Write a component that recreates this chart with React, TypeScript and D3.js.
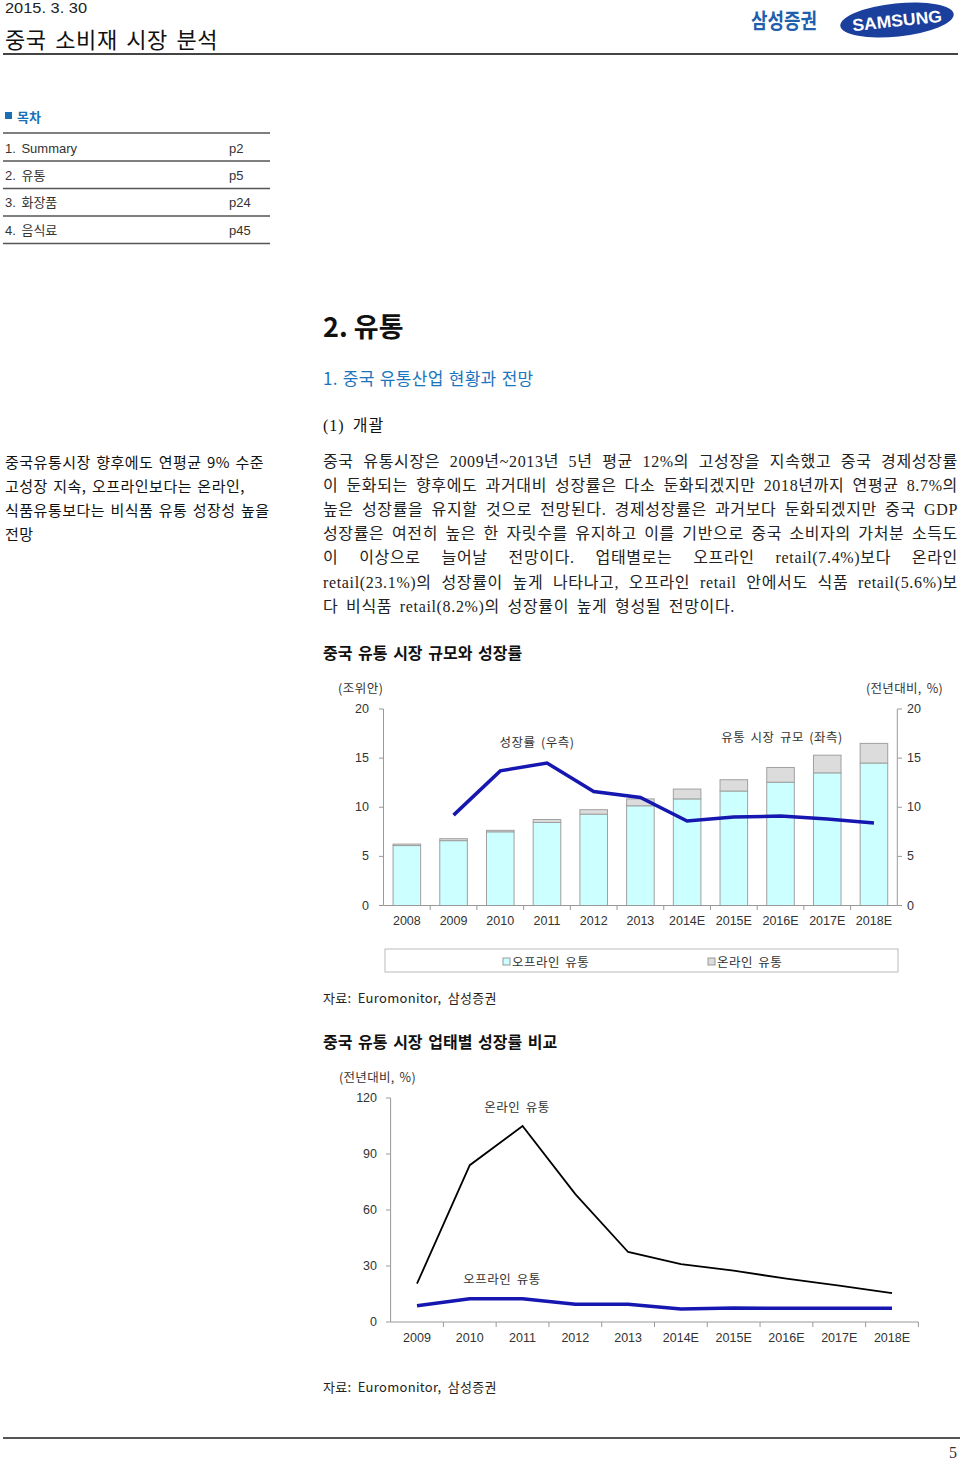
import React, { useLayoutEffect, useRef } from 'react';
import * as d3 from 'd3';

// ---------- data ----------
const tocItems = ['1. Summary', '2. 유통', '3. 화장품', '4. 음식료'];
const tocPages = ['p2', 'p5', 'p24', 'p45'];

const sideLines = [
  '중국유통시장 향후에도 연평균 9% 수준',
  '고성장 지속, 오프라인보다는 온라인,',
  '식품유통보다는 비식품 유통 성장성 높을',
  '전망',
];

const bodyLines = [
  '중국 유통시장은 2009년~2013년 5년 평균 12%의 고성장을 지속했고 중국 경제성장률',
  '이 둔화되는 향후에도 과거대비 성장률은 다소 둔화되겠지만 2018년까지 연평균 8.7%의',
  '높은 성장률을 유지할 것으로 전망된다. 경제성장률은 과거보다 둔화되겠지만 중국 GDP',
  '성장률은 여전히 높은 한 자릿수를 유지하고 이를 기반으로 중국 소비자의 가처분 소득도',
  '이 이상으로 늘어날 전망이다. 업태별로는 오프라인 retail(7.4%)보다 온라인',
  'retail(23.1%)의 성장률이 높게 나타나고, 오프라인 retail 안에서도 식품 retail(5.6%)보',
  '다 비식품 retail(8.2%)의 성장률이 높게 형성될 전망이다.',
];

const years1 = ['2008', '2009', '2010', '2011', '2012', '2013', '2014E', '2015E', '2016E', '2017E', '2018E'];
const offline1 = [6.1, 6.6, 7.5, 8.45, 9.3, 10.15, 10.85, 11.65, 12.55, 13.5, 14.5];
const online1 = [0.15, 0.2, 0.15, 0.3, 0.45, 0.7, 1.0, 1.15, 1.5, 1.8, 2.0];
const growth1: (number | null)[] = [null, 9.2, 13.7, 14.5, 11.6, 11.0, 8.6, 9.0, 9.1, 8.8, 8.4];
const ticks1 = [0, 5, 10, 15, 20];

const years2 = ['2009', '2010', '2011', '2012', '2013', '2014E', '2015E', '2016E', '2017E', '2018E'];
const onlineGrowth = [20.5, 84, 105, 68.5, 37.5, 31, 27.5, 23.2, 19.5, 15.5];
const offlineGrowth = [8.7, 12.5, 12.5, 9.5, 9.5, 7.0, 7.5, 7.3, 7.3, 7.3];
const ticks2 = [0, 30, 60, 90, 120];

const SANS = '"Liberation Sans", Arial, "Noto Sans CJK KR", sans-serif';
const KR = '"Noto Sans CJK KR", "Liberation Sans", sans-serif';
const SERIF = '"Liberation Serif", "Noto Sans CJK KR", serif';
const BLUE_LINE = '#1616b0';

const BODY_WIDTH = 635;
const LAST_LINE_WIDTH = 412;

export default function App() {
  const bodyRefs = useRef<(SVGTextElement | null)[]>([]);

  useLayoutEffect(() => {
    const els = bodyRefs.current;
    const info = els.map((el, i) => {
      if (!el) return { w: 0, n: 0, s: 0 };
      el.setAttribute('word-spacing', '0');
      el.setAttribute('letter-spacing', '0');
      const w = el.getComputedTextLength();
      const n = Array.from(bodyLines[i]).length;
      const s = (bodyLines[i].match(/ /g) || []).length;
      return { w, n, s };
    });
    const last = info[info.length - 1];
    const baseWs = 3;
    const L = Math.max(0, (LAST_LINE_WIDTH - last.w - last.s * baseWs) / last.n);
    els.forEach((el, i) => {
      if (!el) return;
      el.setAttribute('letter-spacing', String(L));
      const { w, n, s } = info[i];
      if (i === els.length - 1) {
        el.setAttribute('word-spacing', String(baseWs));
      } else if (s > 0) {
        const ws = (BODY_WIDTH - w - L * n) / s;
        el.setAttribute('word-spacing', String(ws));
      }
    });
  }, []);

  // chart 1 scales
  const x1 = d3.scaleBand<string>().domain(years1).range([383.5, 897.3]).paddingInner(0.41).paddingOuter(0.205);
  const y1 = d3.scaleLinear().domain([0, 20]).range([905.5, 709]);
  const yR = d3.scaleLinear().domain([0, 20]).range([905.5, 709]);
  const bw1 = x1.bandwidth();
  const cx1 = (d: string) => (x1(d) as number) + bw1 / 2;
  const growthLine = d3
    .line<number | null>()
    .defined((d) => d !== null)
    .x((_, i) => cx1(years1[i]))
    .y((d) => yR(d as number));

  // chart 2 scales
  const x2 = d3.scaleBand<string>().domain(years2).range([390.6, 918.4]);
  const y2 = d3.scaleLinear().domain([0, 120]).range([1322, 1098]);
  const cx2 = (d: string) => (x2(d) as number) + x2.bandwidth() / 2;
  const line2 = d3
    .line<number>()
    .x((_, i) => cx2(years2[i]))
    .y((d) => y2(d));

  const step1 = x1.step();
  const x1Start = 383.5;
  const x2Start = 390.6;

  return (
    <div style={{ position: 'absolute', left: 0, top: 0 }}>
      <svg width={960} height={1460} style={{ display: 'block', background: '#fff' }}>
        {/* header */}
        <text x={5} y={8} dominantBaseline="central" fontFamily={SANS} fontSize={14} fill="#222" textLength={82} lengthAdjust="spacingAndGlyphs">2015. 3. 30</text>
        <text x={5} y={38} dominantBaseline="central" fontFamily={KR} fontSize={22} fill="#111" letterSpacing={0.6} wordSpacing={3}>중국 소비재 시장 분석</text>
        <line x1={3} x2={958} y1={54} y2={54} stroke="#444" strokeWidth={2} />
        <text x={751} y={19} dominantBaseline="central" fontFamily={KR} fontSize={21} fontWeight={700} fill="#1f5fae" textLength={66} lengthAdjust="spacingAndGlyphs">삼성증권</text>
        <g transform="translate(897,20) rotate(-6)">
          <ellipse cx={0} cy={0} rx={57} ry={16.5} fill="#1a3f9c" />
          <text x={0} y={1} textAnchor="middle" dominantBaseline="central" fontFamily={SANS} fontSize={17} fontWeight={700} fill="#fff" textLength={90} lengthAdjust="spacingAndGlyphs">SAMSUNG</text>
        </g>

        {/* TOC */}
        <rect x={5} y={112} width={7} height={7} fill="#1a6fb5" />
        <text x={17} y={116} dominantBaseline="central" fontFamily={KR} fontSize={13} fontWeight={700} fill="#1a6fb5">목차</text>
        {[133, 161, 188.5, 216, 243.5].map((y, i) => (
          <line key={i} x1={3} x2={270} y1={y} y2={y} stroke="#555" strokeWidth={1.5} />
        ))}
        {tocItems.map((t, i) => (
          <g key={t}>
            <text x={5} y={148 + i * 27.4} dominantBaseline="central" fontFamily={SANS} fontSize={13} fill="#333" wordSpacing={2}>{t}</text>
            <text x={229} y={148 + i * 27.4} dominantBaseline="central" fontFamily={SANS} fontSize={13} fill="#333">{tocPages[i]}</text>
          </g>
        ))}

        {/* section headings */}
        <text x={323} y={325} dominantBaseline="central" fontFamily={KR} fontSize={27} fontWeight={700} fill="#111">2. 유통</text>
        <text x={323} y={377} dominantBaseline="central" fontFamily={KR} fontSize={17} fill="#1b75bc" letterSpacing={0.3} wordSpacing={1}>1. 중국 유통산업 현황과 전망</text>
        <text x={323} y={425} dominantBaseline="central" fontFamily={SERIF} fontSize={16} fill="#111" letterSpacing={1} wordSpacing={3}>(1) 개괄</text>

        {/* side summary */}
        {sideLines.map((t, i) => (
          <text
            key={i}
            x={5}
            y={461 + i * 24}
            dominantBaseline="central"
            fontFamily={KR}
            fontSize={15}
            fill="#111"
            letterSpacing={0.5}
            wordSpacing={1.5}
          >
            {t}
          </text>
        ))}

        {/* body */}
        {bodyLines.map((t, i) => (
          <text
            key={i}
            ref={(el) => { bodyRefs.current[i] = el; }}
            x={323}
            y={461 + i * 24.2}
            dominantBaseline="central"
            fontFamily={SERIF}
            fontSize={16}
            fill="#222"
          >
            {t}
          </text>
        ))}

        {/* chart 1 */}
        <text x={323} y={652} dominantBaseline="central" fontFamily={KR} fontSize={16} fontWeight={700} fill="#111" wordSpacing={2}>중국 유통 시장 규모와 성장률</text>
        <text x={338} y={687} dominantBaseline="central" fontFamily={KR} fontSize={12.5} fill="#333" letterSpacing={0.5}>(조위안)</text>
        <text x={943} y={687} textAnchor="end" dominantBaseline="central" fontFamily={KR} fontSize={12.5} fill="#333" letterSpacing={0.3} wordSpacing={2}>(전년대비, %)</text>

        {/* bars */}
        {years1.map((yr, i) => {
          const x = x1(yr) as number;
          return (
            <g key={yr}>
              <rect x={x} y={y1(offline1[i])} width={bw1} height={y1(0) - y1(offline1[i])} fill="#ccffff" stroke="#a0a0a0" strokeWidth={1} />
              <rect x={x} y={y1(offline1[i] + online1[i])} width={bw1} height={y1(offline1[i]) - y1(offline1[i] + online1[i])} fill="#dcdcdc" stroke="#a0a0a0" strokeWidth={1} />
            </g>
          );
        })}

        {/* axes chart 1 */}
        <line x1={383.5} x2={383.5} y1={709} y2={905.5} stroke="#999" />
        <line x1={897.3} x2={897.3} y1={709} y2={905.5} stroke="#999" />
        <line x1={383.5} x2={897.3} y1={905.5} y2={905.5} stroke="#999" />
        {ticks1.map((t) => (
          <g key={t}>
            <line x1={379} x2={383.5} y1={y1(t)} y2={y1(t)} stroke="#999" />
            <text x={369} y={y1(t)} textAnchor="end" dominantBaseline="central" fontFamily={SANS} fontSize={12.5} fill="#333">{t}</text>
            <line x1={897.3} x2={902} y1={yR(t)} y2={yR(t)} stroke="#999" />
            <text x={907} y={yR(t)} dominantBaseline="central" fontFamily={SANS} fontSize={12.5} fill="#333">{t}</text>
          </g>
        ))}
        {years1.map((yr, i) => (
          <g key={yr}>
            {i > 0 && <line x1={x1Start + i * step1} x2={x1Start + i * step1} y1={905.5} y2={910} stroke="#999" />}
            <text x={cx1(yr)} y={921} textAnchor="middle" dominantBaseline="central" fontFamily={SANS} fontSize={12.5} fill="#333">{yr}</text>
          </g>
        ))}

        <path d={growthLine(growth1) || ''} fill="none" stroke={BLUE_LINE} strokeWidth={3.5} strokeLinejoin="miter" />
        <text x={537} y={741} textAnchor="middle" dominantBaseline="central" fontFamily={KR} fontSize={12.5} fill="#333" letterSpacing={0.5} wordSpacing={2}>성장률 (우측)</text>
        <text x={782} y={736} textAnchor="middle" dominantBaseline="central" fontFamily={KR} fontSize={12.5} fill="#333" letterSpacing={0.5} wordSpacing={2}>유통 시장 규모 (좌측)</text>

        {/* legend */}
        <rect x={385} y={949} width={513} height={23} fill="#fff" stroke="#bbb" />
        <rect x={503} y={958} width={7} height={7} fill="#ccffff" stroke="#999" />
        <text x={512} y={961} dominantBaseline="central" fontFamily={KR} fontSize={12.5} fill="#333" letterSpacing={0.5} wordSpacing={2}>오프라인 유통</text>
        <rect x={708} y={958} width={7} height={7} fill="#dcdcdc" stroke="#999" />
        <text x={717} y={961} dominantBaseline="central" fontFamily={KR} fontSize={12.5} fill="#333" letterSpacing={0.5} wordSpacing={2}>온라인 유통</text>

        <text x={323} y={997} dominantBaseline="central" fontFamily={KR} fontSize={13} fill="#222" letterSpacing={0.3} wordSpacing={3}>자료: Euromonitor, 삼성증권</text>

        {/* chart 2 */}
        <text x={323} y={1041} dominantBaseline="central" fontFamily={KR} fontSize={16} fontWeight={700} fill="#111" wordSpacing={2}>중국 유통 시장 업태별 성장률 비교</text>
        <text x={339} y={1076} dominantBaseline="central" fontFamily={KR} fontSize={12.5} fill="#333" letterSpacing={0.3} wordSpacing={2}>(전년대비, %)</text>
        <line x1={390.6} x2={390.6} y1={1098} y2={1322} stroke="#999" />
        <line x1={390.6} x2={918.4} y1={1322} y2={1322} stroke="#999" />
        {ticks2.map((t) => (
          <g key={t}>
            <line x1={386} x2={390.6} y1={y2(t)} y2={y2(t)} stroke="#999" />
            <text x={377} y={y2(t)} textAnchor="end" dominantBaseline="central" fontFamily={SANS} fontSize={12.5} fill="#333">{t}</text>
          </g>
        ))}
        {years2.map((yr, i) => (
          <g key={yr}>
            <line x1={x2Start + (i + 1) * x2.step()} x2={x2Start + (i + 1) * x2.step()} y1={1322} y2={1327} stroke="#999" />
            <text x={cx2(yr)} y={1338} textAnchor="middle" dominantBaseline="central" fontFamily={SANS} fontSize={12.5} fill="#333">{yr}</text>
          </g>
        ))}
        <path d={line2(onlineGrowth) || ''} fill="none" stroke="#000" strokeWidth={1.8} />
        <path d={line2(offlineGrowth) || ''} fill="none" stroke={BLUE_LINE} strokeWidth={3.5} />
        <text x={517} y={1106} textAnchor="middle" dominantBaseline="central" fontFamily={KR} fontSize={12.5} fill="#333" letterSpacing={0.5} wordSpacing={2}>온라인 유통</text>
        <text x={502} y={1278} textAnchor="middle" dominantBaseline="central" fontFamily={KR} fontSize={12.5} fill="#333" letterSpacing={0.5} wordSpacing={2}>오프라인 유통</text>

        <text x={323} y={1386} dominantBaseline="central" fontFamily={KR} fontSize={13} fill="#222" letterSpacing={0.3} wordSpacing={3}>자료: Euromonitor, 삼성증권</text>

        {/* footer */}
        <line x1={3} x2={960} y1={1438} y2={1438} stroke="#555" strokeWidth={2} />
        <text x={957} y={1452} textAnchor="end" dominantBaseline="central" fontFamily={SERIF} fontSize={16} fill="#333">5</text>
      </svg>
    </div>
  );
}
